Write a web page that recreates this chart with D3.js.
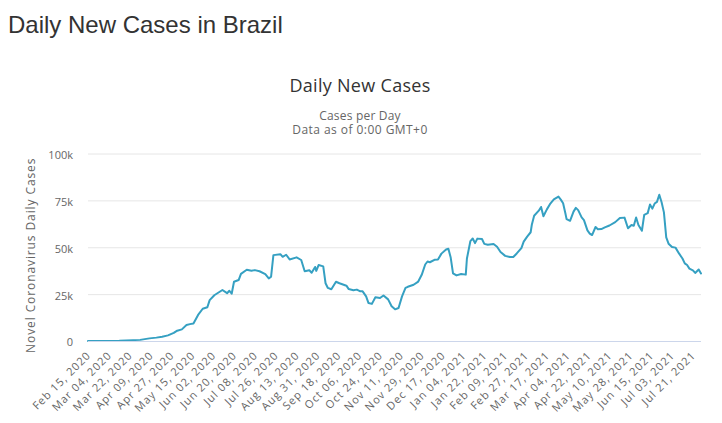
<!DOCTYPE html>
<html>
<head>
<meta charset="utf-8">
<script src="https://cdn.jsdelivr.net/npm/d3@7"></script>
<style>
  html, body { margin: 0; padding: 0; background: #fff; }
  svg { display: block; }
</style>
</head>
<body>
<svg id="chart" width="722" height="423"></svg>
<script>
// ---- Data (thousands of cases per day) ----
const dates = [
  "2020-02-15","2020-02-29","2020-03-13","2020-03-31","2020-04-08","2020-04-14","2020-04-19","2020-04-24","2020-04-29",
  "2020-05-02","2020-05-06","2020-05-10","2020-05-13","2020-05-16","2020-05-20","2020-05-24","2020-05-28","2020-05-30",
  "2020-06-03","2020-06-06","2020-06-10","2020-06-14","2020-06-16","2020-06-18","2020-06-20","2020-06-24","2020-06-26",
  "2020-07-01","2020-07-05","2020-07-08","2020-07-12","2020-07-17","2020-07-20","2020-07-22","2020-07-24","2020-07-30",
  "2020-08-01","2020-08-04","2020-08-07","2020-08-13","2020-08-17","2020-08-20","2020-08-24","2020-08-26","2020-08-29",
  "2020-08-30","2020-09-01","2020-09-05","2020-09-07","2020-09-09","2020-09-12","2020-09-16","2020-09-19","2020-09-25",
  "2020-09-27","2020-10-01","2020-10-04","2020-10-07","2020-10-09","2020-10-12","2020-10-14","2020-10-17","2020-10-20",
  "2020-10-24","2020-10-27","2020-10-31","2020-11-03","2020-11-06","2020-11-09","2020-11-12","2020-11-15","2020-11-17",
  "2020-11-22","2020-11-26","2020-11-29","2020-12-02","2020-12-04","2020-12-06","2020-12-10","2020-12-13","2020-12-16",
  "2020-12-20","2020-12-22","2020-12-24","2020-12-26","2020-12-29","2021-01-02","2021-01-06","2021-01-07","2021-01-10",
  "2021-01-12","2021-01-14","2021-01-16","2021-01-20","2021-01-22","2021-01-25","2021-01-30","2021-02-02","2021-02-05",
  "2021-02-09","2021-02-13","2021-02-16","2021-02-19","2021-02-23","2021-02-25","2021-02-28","2021-03-03","2021-03-04",
  "2021-03-06","2021-03-10","2021-03-12","2021-03-14","2021-03-17","2021-03-20","2021-03-23","2021-03-27","2021-03-29",
  "2021-03-31","2021-04-02","2021-04-03","2021-04-06","2021-04-09","2021-04-11","2021-04-13","2021-04-16","2021-04-18",
  "2021-04-21","2021-04-23","2021-04-25","2021-04-28","2021-04-30","2021-05-03","2021-05-06","2021-05-10","2021-05-15",
  "2021-05-19","2021-05-23","2021-05-26","2021-05-29","2021-05-31","2021-06-02","2021-06-04","2021-06-07","2021-06-09",
  "2021-06-12","2021-06-14","2021-06-16","2021-06-18","2021-06-20","2021-06-22","2021-06-24","2021-06-26","2021-06-28",
  "2021-06-30","2021-07-03","2021-07-06","2021-07-09","2021-07-12","2021-07-14","2021-07-16","2021-07-18","2021-07-21",
  "2021-07-23","2021-07-26","2021-07-28"
];
const casesK = [
  0,0,0.1,0.6,1.4,1.8,2.3,3.0,4.3,
  5.5,6.2,8.5,9.0,9.3,13.9,17.2,18.0,21.8,
  24.4,25.6,27.2,25.5,26.8,25.2,31.6,32.5,35.8,
  38.0,37.5,37.8,37.2,35.7,33.4,34.3,45.8,46.3,
  44.9,46.0,43.5,44.6,43.2,37.2,37.7,36.4,39.5,
  37.4,40.5,39.8,30.8,28.3,27.6,31.6,30.8,29.5,
  27.7,27.1,27.4,26.5,26.5,23.8,20.3,19.8,23.3,
  22.9,24.3,22.2,18.5,16.9,17.6,23.8,28.3,28.9,
  30.0,31.7,35.3,40.8,42.4,42.0,43.3,43.5,46.6,
  48.8,49.2,44.5,36.1,35.0,35.7,35.4,44.0,53.3,
  54.7,52.2,54.6,54.4,51.8,51.3,51.7,50.3,47.5,
  45.4,44.8,44.8,46.7,49.5,53.0,55.7,58.0,62.0,
  66.8,69.5,71.5,66.5,70.2,73.3,75.5,77.0,75.4,
  73.5,68.0,65.0,64.1,69.0,71.0,69.8,65.9,64.5,
  59.0,57.3,56.5,60.8,59.6,59.7,60.6,61.6,63.4,
  65.6,65.8,60.1,61.9,61.5,65.9,61.9,58.8,67.3,
  68.2,72.8,70.6,73.3,74.2,78.0,74.0,68.6,55.3,
  51.9,50.1,49.8,46.7,44.0,41.4,40.5,38.6,37.7,
  36.3,38.1,36.0
];
const xTickLabels = [
  "Feb 15, 2020","Mar 04, 2020","Mar 22, 2020","Apr 09, 2020","Apr 27, 2020","May 15, 2020",
  "Jun 02, 2020","Jun 20, 2020","Jul 08, 2020","Jul 26, 2020","Aug 13, 2020","Aug 31, 2020",
  "Sep 18, 2020","Oct 06, 2020","Oct 24, 2020","Nov 11, 2020","Nov 29, 2020","Dec 17, 2020",
  "Jan 04, 2021","Jan 22, 2021","Feb 09, 2021","Feb 27, 2021","Mar 17, 2021","Apr 04, 2021",
  "Apr 22, 2021","May 10, 2021","May 28, 2021","Jun 15, 2021","Jul 03, 2021","Jul 21, 2021"
];
const yTicks = [0, 25000, 50000, 75000, 100000];
const yTickLabels = ["0", "25k", "50k", "75k", "100k"];
const firstDate = "2020-02-15";
const lastDate = "2021-07-28";

// ---- Drawing ----
const svg = d3.select("#chart");
const parseISO = d3.utcParse("%Y-%m-%d");
const parseLabel = d3.utcParse("%b %d, %Y");
const fmtLabel = d3.utcFormat("%b %d, %Y");

const plot = { left: 88, right: 701, top: 153.5, bottom: 341 };
const chartFont = "'Open Sans', sans-serif";

const x = d3.scaleUtc()
  .domain([parseISO(firstDate), parseISO(lastDate)])
  .range([plot.left, plot.right]);
const y = d3.scaleLinear()
  .domain([0, 100000])
  .range([plot.bottom, plot.top]);

// Page heading
svg.append("text")
  .attr("x", 8).attr("y", 33)
  .attr("font-family", "'Liberation Sans', Arial, sans-serif")
  .attr("font-size", 24)
  .attr("fill", "#333")
  .text("Daily New Cases in Brazil");

// Chart titles
svg.append("text")
  .attr("x", 360).attr("y", 92)
  .attr("text-anchor", "middle")
  .attr("font-family", chartFont)
  .attr("font-size", 18)
  .attr("letter-spacing", 0.3)
  .attr("fill", "#333")
  .text("Daily New Cases");
svg.append("text")
  .attr("x", 360).attr("y", 119.5)
  .attr("text-anchor", "middle")
  .attr("font-family", chartFont)
  .attr("font-size", 12)
  .attr("letter-spacing", 0.2)
  .attr("fill", "#666")
  .text("Cases per Day");
svg.append("text")
  .attr("x", 360).attr("y", 134)
  .attr("text-anchor", "middle")
  .attr("font-family", chartFont)
  .attr("font-size", 12)
  .attr("letter-spacing", 0.45)
  .attr("fill", "#666")
  .text("Data as of 0:00 GMT+0");

// Y axis with grid
const yAxis = d3.axisLeft(y)
  .tickValues(yTicks)
  .tickFormat(d => yTickLabels[yTicks.indexOf(d)])
  .tickSize(-(plot.right - plot.left))
  .tickPadding(15);
const gy = svg.append("g")
  .attr("transform", `translate(${plot.left},0)`)
  .call(yAxis);
gy.select(".domain").remove();
gy.selectAll(".tick line").attr("stroke", "#e6e6e6").attr("stroke-width", 1);
gy.selectAll(".tick text")
  .attr("font-family", chartFont)
  .attr("font-size", 11)
  .attr("fill", "#666")
  .attr("dy", "0.45em");

// Y axis title
svg.append("text")
  .attr("transform", `translate(35,${(plot.top + plot.bottom) / 2 + 8}) rotate(-90)`)
  .attr("text-anchor", "middle")
  .attr("font-family", chartFont)
  .attr("font-size", 12)
  .attr("letter-spacing", 0.9)
  .attr("fill", "#666")
  .text("Novel Coronavirus Daily Cases");

// Line
const series = dates.map((d, i) => ({ date: parseISO(d), value: casesK[i] * 1000 }));
const line = d3.line()
  .x(d => x(d.date))
  .y(d => y(d.value));
svg.append("path")
  .datum(series)
  .attr("fill", "none")
  .attr("stroke", "#35a0c2")
  .attr("stroke-width", 2)
  .attr("stroke-linejoin", "round")
  .attr("stroke-linecap", "round")
  .attr("d", line);

// X axis
const xAxis = d3.axisBottom(x)
  .tickValues(xTickLabels.map(parseLabel))
  .tickFormat(fmtLabel)
  .tickSize(0);
const gx = svg.append("g")
  .attr("transform", `translate(0,${plot.bottom})`)
  .call(xAxis);
gx.select(".domain").attr("stroke", "#ccd6eb").attr("stroke-width", 1)
  .attr("d", `M${plot.left},0.5H${plot.right}`);
gx.selectAll(".tick text")
  .attr("font-family", chartFont)
  .attr("font-size", 11)
  .attr("letter-spacing", 1)
  .attr("fill", "#666")
  .attr("text-anchor", "end")
  .attr("x", 0).attr("y", 0).attr("dy", 0)
  .attr("transform", "translate(3,15) rotate(-45)");
</script>
</body>
</html>
